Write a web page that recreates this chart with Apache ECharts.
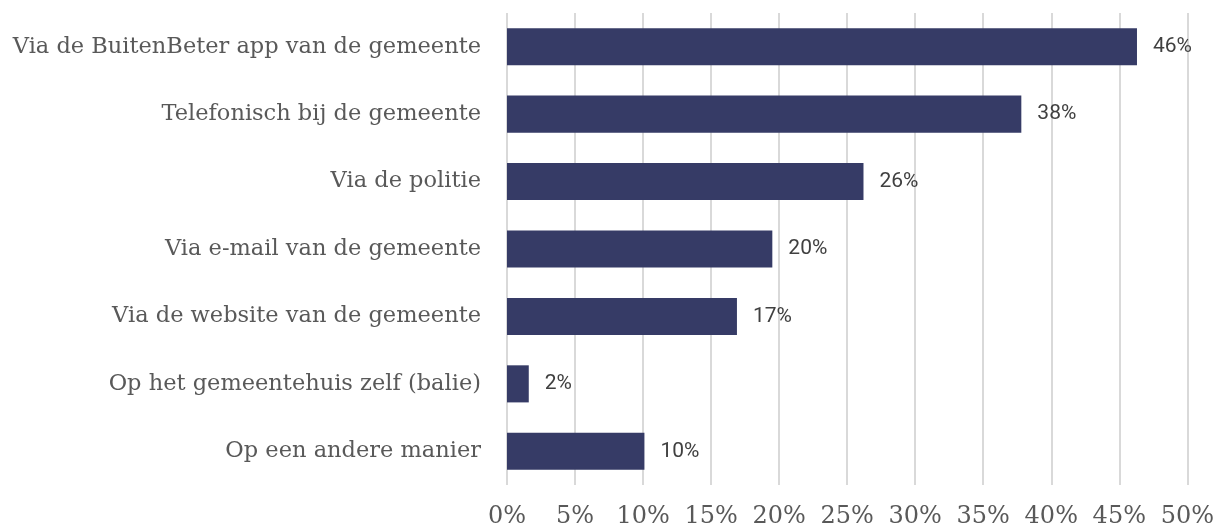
<!DOCTYPE html>
<html><head><meta charset="utf-8">
<script src="https://cdn.jsdelivr.net/npm/echarts@6/dist/echarts.min.js"></script>
<style>html,body{margin:0;padding:0;background:#fff}#c{width:1217px;height:529px}</style>
</head><body><div id="c"></div>
<script>
const categories = [
  "Via de BuitenBeter app van de gemeente",
  "Telefonisch bij de gemeente",
  "Via de politie",
  "Via e-mail van de gemeente",
  "Via de website van de gemeente",
  "Op het gemeentehuis zelf (balie)",
  "Op een andere manier"
];
const values = [46.3, 37.8, 26.2, 19.5, 16.9, 1.6, 10.1];
const tickMin = 0, tickMax = 50, tickStep = 5;

const chart = echarts.init(document.getElementById('c'));
chart.setOption({
  animation: false,
  grid: {left: 507, right: 29, top: 13, bottom: 42},
  xAxis: {
    type: 'value', min: tickMin, max: tickMax, interval: tickStep,
    axisLine: {show: false}, axisTick: {show: false},
    splitLine: {show: true, lineStyle: {color: '#d9d9d9', width: 2}},
    axisLabel: {formatter: '{value}%', color: '#595959', fontFamily: 'DejaVu Serif', fontSize: 24, margin: 20}
  },
  yAxis: {
    type: 'category', data: categories, inverse: true,
    axisLine: {show: false}, axisTick: {show: false},
    axisLabel: {color: '#595959', fontFamily: 'DejaVu Serif', fontSize: 22.5, margin: 26}
  },
  series: [{
    type: 'bar', data: values, barWidth: '55%',
    itemStyle: {color: '#363B66'},
    label: {show: true, position: 'right', distance: 16, color: '#404040', fontFamily: 'Roboto', fontSize: 21,
      formatter: p => Math.round(p.value) + '%'}
  }]
});
</script></body></html>
